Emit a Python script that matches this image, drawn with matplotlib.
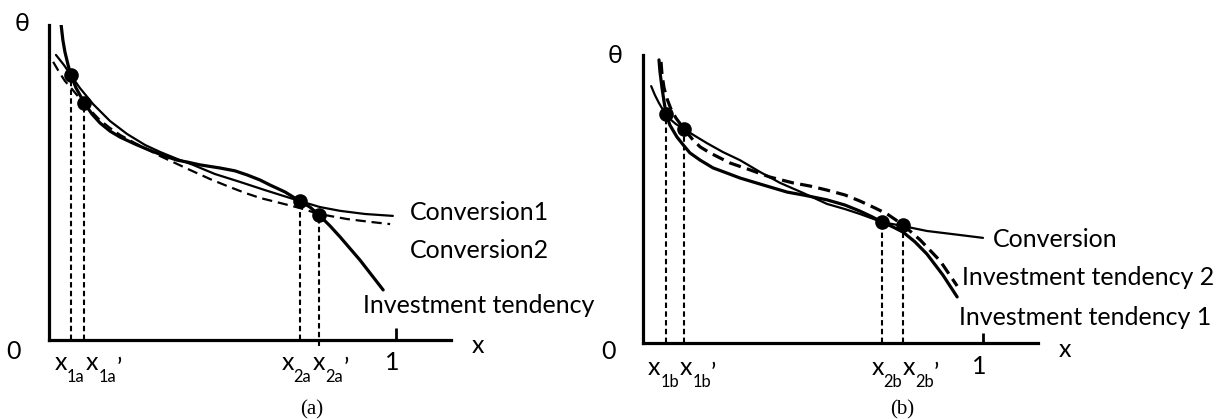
import matplotlib
matplotlib.use("Agg")
import matplotlib.pyplot as plt

plt.rcParams['font.family'] = ['Lato', 'DejaVu Sans']

# ---- panel (a) : x in [0,1], theta scaled so top of axis = 1 ----
a_inv_x = [0.035, 0.040, 0.046, 0.055, 0.063, 0.078, 0.102, 0.124, 0.147, 0.176, 0.205, 0.248,
           0.282, 0.326, 0.369, 0.398, 0.435, 0.493, 0.536, 0.571, 0.608, 0.637, 0.680, 0.723,
           0.752, 0.778, 0.810, 0.839, 0.896, 0.963]
a_inv_y = [1.000, 0.952, 0.914, 0.873, 0.841, 0.800, 0.752, 0.717, 0.689, 0.663, 0.644, 0.622,
           0.606, 0.587, 0.571, 0.565, 0.556, 0.546, 0.537, 0.524, 0.508, 0.492, 0.470, 0.441,
           0.422, 0.397, 0.362, 0.327, 0.254, 0.159]
a_conv1_x = [0.020, 0.043, 0.063, 0.089, 0.127, 0.176, 0.225, 0.277, 0.320, 0.369, 0.415, 0.478,
             0.550, 0.622, 0.723, 0.781, 0.839, 0.911, 0.991]
a_conv1_y = [0.905, 0.873, 0.841, 0.800, 0.749, 0.695, 0.654, 0.619, 0.597, 0.575, 0.556, 0.527,
             0.502, 0.476, 0.441, 0.422, 0.410, 0.400, 0.394]
a_conv2_x = [0.012, 0.029, 0.046, 0.066, 0.084, 0.102, 0.124, 0.147, 0.176, 0.205, 0.248, 0.282,
             0.320, 0.363, 0.406, 0.464, 0.513, 0.565, 0.608, 0.666, 0.723, 0.778, 0.859, 0.925, 0.983]
a_conv2_y = [0.883, 0.851, 0.822, 0.797, 0.773, 0.752, 0.724, 0.698, 0.673, 0.651, 0.625, 0.606,
             0.584, 0.562, 0.540, 0.511, 0.489, 0.467, 0.451, 0.435, 0.419, 0.400, 0.384, 0.375, 0.368]
a_dot_x = [0.063, 0.102, 0.723, 0.778]
a_dot_y = [0.841, 0.752, 0.441, 0.397]

# ---- panel (b) ----
b_conv_x = [0.024, 0.035, 0.047, 0.059, 0.068, 0.079, 0.097, 0.121, 0.153, 0.188, 0.235, 0.285,
            0.344, 0.403, 0.471, 0.541, 0.594, 0.638, 0.703, 0.765, 0.835, 0.932, 1.000]
b_conv_y = [0.892, 0.861, 0.833, 0.809, 0.795, 0.778, 0.760, 0.743, 0.719, 0.694, 0.663, 0.635,
            0.594, 0.556, 0.521, 0.483, 0.465, 0.448, 0.420, 0.406, 0.389, 0.375, 0.365]
b_inv1_x = [0.047, 0.050, 0.056, 0.062, 0.068, 0.079, 0.100, 0.121, 0.138, 0.168, 0.206, 0.247,
            0.285, 0.344, 0.424, 0.471, 0.541, 0.594, 0.638, 0.674, 0.703, 0.735, 0.765, 0.800,
            0.835, 0.882, 0.924]
b_inv1_y = [0.983, 0.941, 0.885, 0.837, 0.795, 0.757, 0.715, 0.684, 0.660, 0.635, 0.608, 0.590,
            0.573, 0.552, 0.524, 0.514, 0.497, 0.479, 0.458, 0.438, 0.420, 0.403, 0.385, 0.351,
            0.309, 0.236, 0.160]
b_inv2_x = [0.053, 0.056, 0.062, 0.071, 0.082, 0.097, 0.121, 0.147, 0.168, 0.197, 0.256, 0.315,
            0.374, 0.441, 0.491, 0.541, 0.594, 0.638, 0.682, 0.718, 0.765, 0.815, 0.874, 0.924]
b_inv2_y = [0.976, 0.931, 0.885, 0.847, 0.813, 0.781, 0.743, 0.705, 0.681, 0.660, 0.625, 0.601,
            0.576, 0.556, 0.545, 0.531, 0.514, 0.493, 0.469, 0.448, 0.410, 0.358, 0.285, 0.198]
b_dot_x = [0.068, 0.121, 0.703, 0.765]
b_dot_y = [0.795, 0.743, 0.420, 0.408]

W, H = 1224, 419
fig = plt.figure(figsize=(W / 100, H / 100), dpi=100)
axA = fig.add_axes([49 / W, 1 - 340 / H, 402 / W, 315 / H])
axB = fig.add_axes([643 / W, 1 - 343 / H, 395 / W, 288 / H])
axA.set_xlim(0, 402 / 347)
axB.set_xlim(0, 395 / 340)

THIN, THICK = 1.6, 2.3
FS = 18


def frame(ax, tick_len):
    ax.set_ylim(0, 1)
    for s in ("top", "right"):
        ax.spines[s].set_visible(False)
    for s in ("left", "bottom"):
        ax.spines[s].set_linewidth(2.3)
        ax.spines[s].set_capstyle("projecting")
    ax.set_yticks([])
    ax.set_xticks([1])
    ax.set_xticklabels([""])
    ax.tick_params(axis="x", direction="in", length=tick_len, width=2)
    ax.patch.set_alpha(0)


def vlines(ax, xs, ys, below=0.0):
    for x, y in zip(xs, ys):
        ax.plot([x, x], [below, y], color="black", lw=1.5, ls=(0, (2.6, 1.6)),
                clip_on=False, zorder=2)


def xlabel(ax, x, sub, y, ysub, dx, prime=None, yprime=None):
    ax.text(x, y, "x", fontsize=FS, va="baseline", ha="left", clip_on=False)
    ax.text(x + dx, ysub, sub, fontsize=FS * 0.66, va="baseline", ha="left", clip_on=False)
    if prime is not None:
        ax.text(prime, yprime, "\u2019", fontsize=FS, va="baseline", ha="left", clip_on=False)


# ---------------- (a) ----------------
frame(axA, 8.5)
axA.plot(a_conv1_x, a_conv1_y, color="black", lw=THIN, solid_capstyle="round")
axA.plot(a_conv2_x, a_conv2_y, color="black", lw=THIN, ls=(0, (4.6, 2.6)))
axA.plot(a_inv_x, a_inv_y, color="black", lw=THICK, solid_capstyle="round")
vlines(axA, a_dot_x[:3], a_dot_y[:3])
vlines(axA, a_dot_x[3:], a_dot_y[3:], below=-0.02)
axA.plot(a_dot_x, a_dot_y, "o", color="black", ms=9.5, zorder=5)

axA.text(-0.078, 1.006, "\u03b8", fontsize=FS, ha="center", va="center")
axA.text(-0.101, -0.038, "0", fontsize=FS, ha="center", va="center")
axA.text(1.236, -0.016, "x", fontsize=FS, ha="center", va="center")
axA.text(0.988, -0.070, "1", fontsize=FS, ha="center", va="center")
axA.text(1.040, 0.406, "Conversion1", fontsize=FS, ha="left", va="center")
axA.text(1.040, 0.283, "Conversion2", fontsize=FS, ha="left", va="center")
axA.text(0.905, 0.111, "Investment tendency", fontsize=FS, ha="left", va="center")
xlabel(axA, 0.017, "1a", -0.095, -0.133, 0.033)
xlabel(axA, 0.107, "1a", -0.095, -0.133, 0.035, prime=0.196, yprime=-0.115)
xlabel(axA, 0.671, "2a", -0.095, -0.133, 0.033)
xlabel(axA, 0.761, "2a", -0.095, -0.133, 0.035, prime=0.850, yprime=-0.115)

# ---------------- (b) ----------------
frame(axB, 7.2)
axB.plot(b_conv_x, b_conv_y, color="black", lw=THIN, solid_capstyle="round")
axB.plot(b_inv2_x, b_inv2_y, color="black", lw=THICK, ls=(0, (3.8, 2.0)))
axB.plot(b_inv1_x, b_inv1_y, color="black", lw=THICK, solid_capstyle="round")
vlines(axB, b_dot_x, b_dot_y)
axB.plot(b_dot_x, b_dot_y, "o", color="black", ms=9.5, zorder=5)

axB.text(-0.082, 1.0, "\u03b8", fontsize=FS, ha="center", va="center")
axB.text(-0.100, -0.031, "0", fontsize=FS, ha="center", va="center")
axB.text(1.241, -0.024, "x", fontsize=FS, ha="center", va="center")
axB.text(0.988, -0.083, "1", fontsize=FS, ha="center", va="center")
axB.text(1.029, 0.361, "Conversion", fontsize=FS, ha="left", va="center")
axB.text(0.938, 0.226, "Investment tendency 2", fontsize=FS, ha="left", va="center")
axB.text(0.929, 0.090, "Investment tendency 1", fontsize=FS, ha="left", va="center")
xlabel(axB, 0.015, "1b", -0.111, -0.153, 0.038)
xlabel(axB, 0.109, "1b", -0.111, -0.153, 0.036, prime=0.200, yprime=-0.133)
xlabel(axB, 0.674, "2b", -0.111, -0.153, 0.033)
xlabel(axB, 0.765, "2b", -0.111, -0.153, 0.036, prime=0.856, yprime=-0.133)

fig.text(312 / W, 1 - 410 / H, "(a)", fontsize=15, family="Liberation Serif",
         ha="center", va="center")
fig.text(902 / W, 1 - 410 / H, "(b)", fontsize=15, family="Liberation Serif",
         ha="center", va="center")

fig.savefig("out.png", dpi=100, facecolor="white")
